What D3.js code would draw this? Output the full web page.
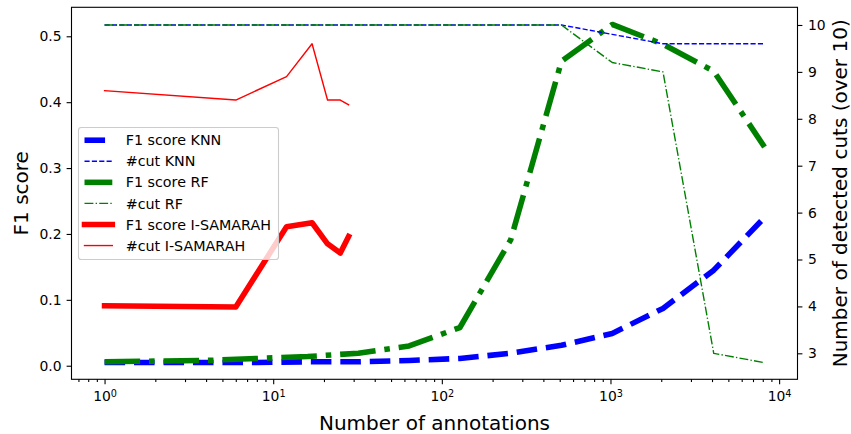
<!DOCTYPE html>
<html>
<head>
<meta charset="utf-8">
<script src="https://cdn.jsdelivr.net/npm/d3@7"></script>
<style>
  body { margin: 0; background: #fff; }
  svg text { font-family: "DejaVu Sans", sans-serif; fill: #000; }
</style>
</head>
<body>
<div id="chart"></div>
<script>
// ---------- data ----------
var annotations = [1, 2, 4, 8, 16, 32, 64, 128, 256, 512, 1024, 2048, 4096, 8192];
var f1Knn  = [0.005, 0.005, 0.005, 0.005, 0.006, 0.006, 0.008, 0.011, 0.019, 0.031, 0.049, 0.087, 0.145, 0.225];
var cutKnn = [10, 10, 10, 10, 10, 10, 10, 10, 10, 10, 9.8, 9.6, 9.6, 9.6];
var f1Rf   = [0.006, 0.007, 0.008, 0.011, 0.014, 0.019, 0.030, 0.058, 0.191, 0.462, 0.518, 0.488, 0.447, 0.332];
var cutRf  = [10, 10, 10, 10, 10, 10, 10, 10, 10, 10, 9.2, 9.0, 3.0, 2.8];

var annotSam = [1, 6, 12, 17, 21, 25, 28];
var f1Sam    = [0.091, 0.089, 0.211, 0.217, 0.185, 0.171, 0.196];
var cutSam   = [8.6, 8.4, 8.9, 9.6, 8.4, 8.4, 8.3];

var leftTicks  = [0, 0.1, 0.2, 0.3, 0.4, 0.5];
var rightTicks = [3, 4, 5, 6, 7, 8, 9, 10];
var xTicks     = [1, 10, 100, 1000, 10000];

// ---------- layout ----------
var width = 851, height = 434,
    plot = {left: 71.5, right: 797.5, top: 7.3, bottom: 379.3};
var lw = 5.56, thin = 1.39;   // 4pt / 1pt at 100 dpi

var svg = d3.select("#chart").append("svg")
    .attr("width", width)
    .attr("height", height);

var x = d3.scaleLog()
    .domain([Math.pow(10, -0.196), Math.pow(10, 4.109)])
    .range([plot.left, plot.right]);
var yL = d3.scaleLinear()
    .domain([-0.0206, 0.544])
    .range([plot.bottom, plot.top]);
var yR = d3.scaleLinear()
    .domain([2.446, 10.377])
    .range([plot.bottom, plot.top]);

function zip(xs, ys) {
    return xs.map(function(v, i) { return {n: v, v: ys[i]}; });
}

var lineL = d3.line().x(function(d){ return x(d.n); }).y(function(d){ return yL(d.v); });
var lineR = d3.line().x(function(d){ return x(d.n); }).y(function(d){ return yR(d.v); });

var series = [
    {label: "F1 score KNN",       data: zip(annotations, f1Knn),  line: lineL, color: "#0000ff", w: lw,   dash: [3.7, 1.6]},
    {label: "F1 score RF",        data: zip(annotations, f1Rf),   line: lineL, color: "#008000", w: lw,   dash: [6.4, 1.6, 1, 1.6]},
    {label: "F1 score I-SAMARAH", data: zip(annotSam, f1Sam),     line: lineL, color: "#ff0000", w: lw,   dash: null},
    {label: "#cut KNN",           data: zip(annotations, cutKnn), line: lineR, color: "#0000ff", w: thin, dash: [3.7, 1.6]},
    {label: "#cut RF",            data: zip(annotations, cutRf),  line: lineR, color: "#008000", w: thin, dash: [6.4, 1.6, 1, 1.6]},
    {label: "#cut I-SAMARAH",     data: zip(annotSam, cutSam),    line: lineR, color: "#ff0000", w: thin, dash: null}
];

function dashStr(s) {
    return s.dash ? s.dash.map(function(d){ return (d * s.w).toFixed(2); }).join(",") : null;
}

// ---------- axes ----------
var fontTick = "13.9px";

var gL = svg.append("g")
    .attr("transform", "translate(" + plot.left + ",0)")
    .call(d3.axisLeft(yL).tickValues(leftTicks).tickFormat(d3.format(".1f"))
        .tickSize(4.9).tickSizeOuter(0).tickPadding(5));
var gR = svg.append("g")
    .attr("transform", "translate(" + plot.right + ",0)")
    .call(d3.axisRight(yR).tickValues(rightTicks).tickFormat(d3.format("d"))
        .tickSize(4.9).tickSizeOuter(0).tickPadding(5.5));

// minor ticks on the log axis
var minor = [];
for (var e = -1; e <= 4; e++) {
    for (var k = 2; k <= 9; k++) {
        var v = k * Math.pow(10, e);
        if (v > x.domain()[0] && v < x.domain()[1]) minor.push(v);
    }
}
svg.append("g")
    .attr("transform", "translate(0," + plot.bottom + ")")
    .call(d3.axisBottom(x).tickValues(minor).tickFormat("").tickSize(2.8).tickSizeOuter(0));

var gX = svg.append("g")
    .attr("transform", "translate(0," + plot.bottom + ")")
    .call(d3.axisBottom(x).tickValues(xTicks).tickSize(4.9).tickSizeOuter(0));

// 10^n labels with a real superscript
gX.selectAll(".tick text").each(function(d) {
    var t = d3.select(this).text(null).attr("y", 22.2).attr("dy", null);
    t.append("tspan").text("10");
    t.append("tspan").attr("dy", "-0.45em").style("font-size", "9.7px")
        .text(Math.round(Math.log10(d)));
});

svg.selectAll(".domain").remove();
svg.selectAll(".tick line").attr("stroke", "#000").attr("stroke-width", 1.1);
svg.selectAll(".tick text").style("font-size", fontTick).style("font-family", "DejaVu Sans");

// ---------- lines ----------
var lines = svg.append("g");
series.forEach(function(s) {
    lines.append("path")
        .datum(s.data)
        .attr("d", s.line)
        .attr("fill", "none")
        .attr("stroke", s.color)
        .attr("stroke-width", s.w)
        .attr("stroke-linejoin", "round")
        .attr("stroke-linecap", s.dash ? "butt" : "square")
        .attr("stroke-dasharray", dashStr(s));
});

// spines
svg.append("rect")
    .attr("x", plot.left).attr("y", plot.top)
    .attr("width", plot.right - plot.left)
    .attr("height", plot.bottom - plot.top)
    .attr("fill", "none")
    .attr("stroke", "#000")
    .attr("stroke-width", 1.1);

// ---------- axis labels ----------
svg.append("text")
    .attr("transform", "translate(27.5," + (plot.top + plot.bottom) / 2 + ") rotate(-90)")
    .attr("text-anchor", "middle")
    .style("font-size", "20px")
    .text("F1 score");

svg.append("text")
    .attr("transform", "translate(846.5," + (plot.top + plot.bottom) / 2 + ") rotate(-90)")
    .attr("text-anchor", "middle")
    .style("font-size", "20px")
    .text("Number of detected cuts (over 10)");

svg.append("text")
    .attr("x", (plot.left + plot.right) / 2)
    .attr("y", 429.5)
    .attr("text-anchor", "middle")
    .style("font-size", "20px")
    .text("Number of annotations");

// ---------- legend ----------
var legendOrder = [0, 3, 1, 4, 2, 5];
var lg = svg.append("g");
lg.append("rect")
    .attr("x", 78.5).attr("y", 127.5)
    .attr("width", 200).attr("height", 132)
    .attr("rx", 2.8)
    .attr("fill", "#fff")
    .attr("fill-opacity", 0.8)
    .attr("stroke", "#cccccc")
    .attr("stroke-width", 1.1);

legendOrder.forEach(function(idx, i) {
    var s = series[idx], yy = 140.2 + i * 21.07;
    lg.append("line")
        .attr("x1", 84.5).attr("x2", 112.3)
        .attr("y1", yy).attr("y2", yy)
        .attr("stroke", s.color)
        .attr("stroke-width", s.w)
        .attr("stroke-linecap", s.dash ? "butt" : "square")
        .attr("stroke-dasharray", dashStr(s));
    lg.append("text")
        .attr("x", 125.7).attr("y", yy)
        .attr("dy", "0.36em")
        .style("font-size", "14.3px")
        .text(s.label);
});
</script>
</body>
</html>
